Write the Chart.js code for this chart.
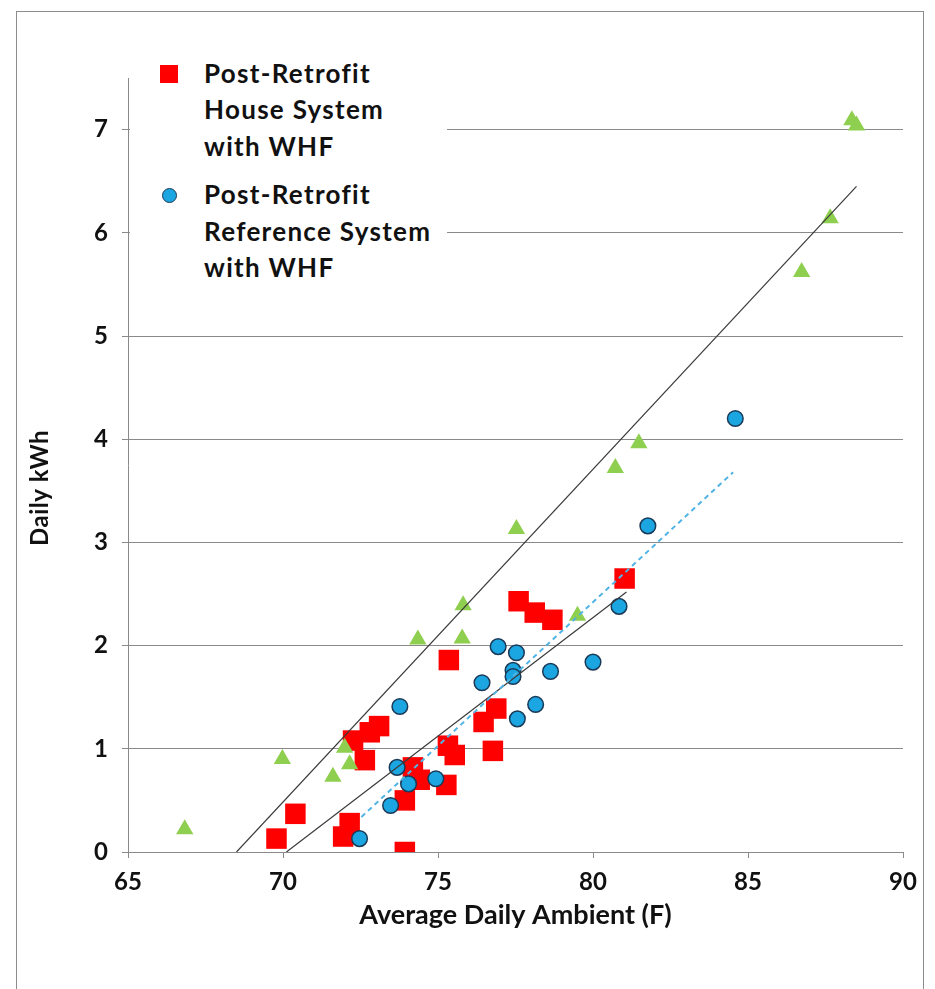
<!DOCTYPE html>
<html>
<head>
<meta charset="utf-8">
<script src="https://cdn.jsdelivr.net/npm/chart.js@4.4.1/dist/chart.umd.min.js"></script>
<style>
  html, body { margin: 0; padding: 0; background: #fff; overflow: hidden; }
  #wrap { position: relative; width: 935px; height: 989px; }
  #frame { position: absolute; left: 16px; top: 11px; width: 908px; height: 1100px; border: 1px solid #8c8c8c; box-sizing: border-box; }
  canvas { position: absolute; left: 0; top: 0; }
  #legend { position: absolute; left: 130px; top: 45px; width: 317px; height: 250px; background: #fff;
            font-family: Lato, 'Open Sans', sans-serif; font-weight: bold; font-size: 26px; line-height: 36.7px;
            letter-spacing: 1.3px; color: #111; }
  .item { position: absolute; left: 74px; white-space: nowrap; }
  .mk { position: absolute; }
</style>
</head>
<body>
<div id="wrap">
  <div id="frame"></div>
  <canvas id="c" width="935" height="989"></canvas>
  <div id="legend">
    <div class="mk" style="left:30px; top:20px; width:18px; height:18px; background:#ff0000;"></div>
    <div class="item" style="top:9.6px;">Post-Retrofit<br>House System<br>with WHF</div>
    <div class="mk" style="left:32px; top:143px; width:15px; height:15px; border-radius:50%; background:#1ba6e2; border:1.5px solid #1b3a57; box-sizing:border-box;"></div>
    <div class="item" style="top:131px;">Post-Retrofit<br>Reference System<br>with WHF</div>
  </div>
</div>
<script>
// ---- data ----
const xTicks = [65, 70, 75, 80, 85, 90];
const yTicks = [0, 1, 2, 3, 4, 5, 6, 7];

// Post-Retrofit House System with WHF (red squares)
const houseX = [69.79, 70.40, 71.94, 72.15, 72.26, 72.64, 72.80, 73.10, 73.93, 73.93, 74.19, 74.41, 75.27, 75.32, 75.54, 75.35, 76.47, 76.77, 76.88, 77.60, 78.12, 78.69, 81.02];
const houseY = [0.13, 0.37, 0.15, 0.28, 1.08, 0.89, 1.16, 1.22, 0.00, 0.50, 0.82, 0.70, 0.65, 1.03, 0.94, 1.86, 1.26, 0.98, 1.39, 2.43, 2.32, 2.25, 2.65];

// Post-Retrofit Reference System with WHF (blue circles)
const refX = [72.47, 73.47, 73.68, 73.77, 74.05, 74.93, 76.42, 76.94, 77.42, 77.42, 77.53, 77.56, 78.15, 78.63, 80.00, 80.84, 81.77, 84.59];
const refY = [0.13, 0.45, 0.82, 1.41, 0.66, 0.71, 1.64, 1.99, 1.76, 1.70, 1.93, 1.29, 1.43, 1.75, 1.84, 2.38, 3.16, 4.20];

// Third series (green triangles, not in legend)
const triX = [66.83, 69.98, 71.61, 71.99, 72.15, 74.35, 75.78, 75.81, 77.53, 79.50, 80.72, 81.48, 86.73, 87.65, 88.35, 88.50];
const triY = [0.22, 0.90, 0.73, 1.01, 0.85, 2.06, 2.07, 2.39, 3.13, 2.29, 3.72, 3.96, 5.62, 6.14, 7.09, 7.04];

// Trend lines (end points)
const triFitX = [68.50, 88.50];
const triFitY = [0.00, 6.45];
const houseFitX = [70.11, 81.08];
const houseFitY = [0.00, 2.52];
const refFitX = [72.53, 84.52];
const refFitY = [0.34, 3.68];

const xTitle = 'Average Daily Ambient (F)';
const yTitle = 'Daily kWh';

const pts = (xs, ys) => xs.map((x, i) => ({ x: x, y: ys[i] }));

const FONT = "Lato, 'Open Sans', sans-serif";
const GRID = '#8a8a8a';

// y-axis title drawn a little below the plot's middle, as in the reference
const yTitlePlugin = {
  id: 'yTitle',
  afterDraw(chart) {
    const ctx = chart.ctx;
    const a = chart.chartArea;
    ctx.save();
    ctx.font = 'bold 24px ' + FONT;
    ctx.fillStyle = '#111';
    if ('letterSpacing' in ctx) ctx.letterSpacing = '0.5px';
    ctx.textAlign = 'center';
    ctx.textBaseline = 'middle';
    ctx.translate(40, (a.top + a.bottom) / 2 + 23);
    ctx.rotate(-Math.PI / 2);
    ctx.fillText(yTitle, 0, 0);
    ctx.restore();
  }
};

new Chart(document.getElementById('c'), {
  type: 'scatter',
  data: {
    datasets: [
      { label: 'Reference fit', data: pts(refFitX, refFitY), showLine: true, pointRadius: 0,
        borderColor: '#52b4e4', borderWidth: 2, borderDash: [5, 4], fill: false, order: 0 },
      { label: 'House fit', data: pts(houseFitX, houseFitY), showLine: true, pointRadius: 0,
        borderColor: '#3a3a3a', borderWidth: 1.2, fill: false, order: 1 },
      { label: 'Triangle fit', data: pts(triFitX, triFitY), showLine: true, pointRadius: 0,
        borderColor: '#3a3a3a', borderWidth: 1.2, fill: false, order: 2 },
      { label: 'Other', data: pts(triX, triY), pointStyle: 'triangle', pointRadius: 10,
        backgroundColor: '#8fcf4f', borderColor: '#8fcf4f', borderWidth: 0, order: 3 },
      { label: 'Post-Retrofit Reference System with WHF', data: pts(refX, refY), pointStyle: 'circle', pointRadius: 7.8,
        backgroundColor: '#1ba6e2', borderColor: '#1b3a57', borderWidth: 1.5, order: 4 },
      { label: 'Post-Retrofit House System with WHF', data: pts(houseX, houseY), pointStyle: 'rect', pointRadius: 14.5,
        backgroundColor: '#ff0000', borderColor: '#ff0000', borderWidth: 0, order: 5 }
    ]
  },
  plugins: [yTitlePlugin],
  options: {
    responsive: false,
    animation: false,
    devicePixelRatio: 1,
    layout: { padding: { left: 0, right: 32, top: 78, bottom: 0 } },
    plugins: { legend: { display: false }, tooltip: { enabled: false } },
    scales: {
      x: {
        type: 'linear', min: xTicks[0], max: xTicks[xTicks.length - 1],
        afterBuildTicks: s => { s.ticks = xTicks.map(v => ({ value: v })); },
        afterFit: s => { s.height = 137; },
        ticks: { stepSize: 5, padding: 10, color: '#111', font: { family: FONT, size: 24, weight: 'bold' } },
        grid: { drawOnChartArea: false, drawTicks: true, tickLength: 6, color: GRID, lineWidth: 1 },
        border: { display: true, color: GRID, width: 1 },
        title: { display: true, text: xTitle, color: '#111',
                 font: { family: FONT, size: 27, weight: 'bold' }, padding: { top: 0, bottom: 58 } }
      },
      y: {
        type: 'linear', min: 0, max: 7.5,
        afterBuildTicks: s => { s.ticks = yTicks.map(v => ({ value: v })); },
        afterFit: s => { s.width = 128; },
        ticks: { stepSize: 1, padding: 14, color: '#111', font: { family: FONT, size: 24, weight: 'bold' } },
        grid: { drawOnChartArea: true, drawTicks: true, tickLength: 6, color: GRID, lineWidth: 1 },
        border: { display: true, color: GRID, width: 1 },
        title: { display: false, text: yTitle }
      }
    }
  }
});
</script>
</body>
</html>
